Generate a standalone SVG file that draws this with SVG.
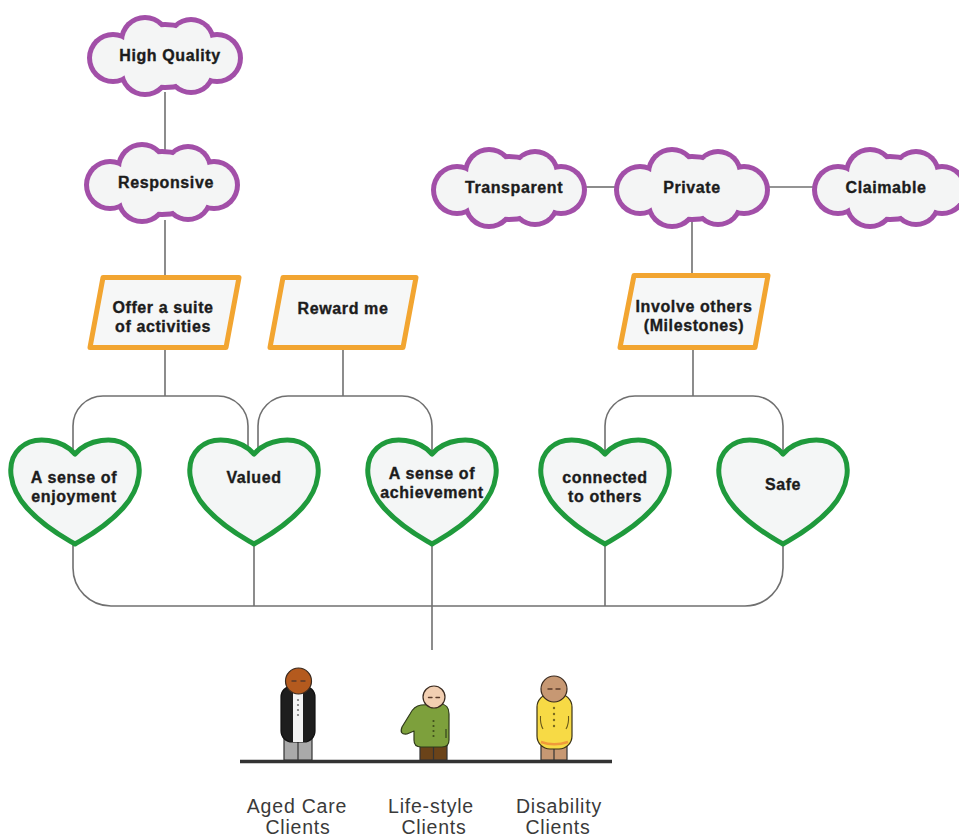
<svg xmlns="http://www.w3.org/2000/svg" xmlns:xlink="http://www.w3.org/1999/xlink" width="959" height="840" viewBox="0 0 959 840">
  <style>
    .lbl { font-family: "Liberation Sans", Arial, sans-serif; font-weight: bold; font-size: 16px; letter-spacing: 0.6px; fill: #1c1c1c; stroke: #1c1c1c; stroke-width: 0.35; text-anchor: middle; }
    .cap { font-family: "Liberation Sans", Arial, sans-serif; font-size: 19.5px; letter-spacing: 0.8px; fill: #3a3a3a; text-anchor: middle; }
    .conn { fill: none; stroke: #707070; stroke-width: 1.6; }
    .para { fill: #f6f7f7; stroke: #f2a531; stroke-width: 5; stroke-linejoin: round; }
    .heart { fill: #f4f6f6; stroke: #1f9a3c; stroke-width: 5; stroke-linejoin: round; }
    .cloud-edge { fill: #a24fa8; }
    .cloud-body { fill: #f4f5f5; }
    .skin-line { stroke: #333; stroke-width: 1.2; }
    .eye { stroke: #5a3a2a; stroke-width: 1.4; stroke-linecap: round; fill: none; }
  </style>
  <defs>
    <!-- cloud = union of lobes; the outer layer shows as a 5px rim -->
    <g id="cloud">
      <g class="cloud-edge">
        <ellipse cx="0" cy="0" rx="46" ry="34"/>
        <circle cx="-20" cy="-15" r="26"/>
        <circle cx="26" cy="-14" r="25"/>
        <circle cx="-20" cy="15" r="26"/>
        <circle cx="26" cy="14" r="25"/>
        <circle cx="-52" cy="2" r="26"/>
        <circle cx="52" cy="2" r="26"/>
      </g>
      <g class="cloud-body">
        <ellipse cx="0" cy="0" rx="41" ry="29"/>
        <circle cx="-20" cy="-15" r="21"/>
        <circle cx="26" cy="-14" r="20"/>
        <circle cx="-20" cy="15" r="21"/>
        <circle cx="26" cy="14" r="20"/>
        <circle cx="-52" cy="2" r="21"/>
        <circle cx="52" cy="2" r="21"/>
      </g>
    </g>
    <!-- heart with its top notch at the origin -->
    <path id="heart" d="M0 2 C-12 -12 -40 -18 -55 -4 C-70 10 -66 36 -48 56 C-30 76 -10 86 0 92 C10 86 30 76 48 56 C66 36 70 10 55 -4 C40 -18 12 -12 0 2 Z"/>
  </defs>

  <rect width="959" height="840" fill="#ffffff"/>

  <g id="connectors">
    <path class="conn" d="M165 92 V150"/>
    <path class="conn" d="M165 220 V280"/>
    <path class="conn" d="M584 187 H616"/>
    <path class="conn" d="M768 187 H815"/>
    <path class="conn" d="M692 222 V278"/>
    <path class="conn" d="M165 347 V396"/>
    <path class="conn" d="M73 455 V426 A30 30 0 0 1 103 396 H218 A30 30 0 0 1 248 426 V455"/>
    <path class="conn" d="M343 347 V396"/>
    <path class="conn" d="M258 455 V426 A30 30 0 0 1 288 396 H402 A30 30 0 0 1 432 426 V455"/>
    <path class="conn" d="M693 347 V396"/>
    <path class="conn" d="M605 455 V426 A30 30 0 0 1 635 396 H753 A30 30 0 0 1 783 426 V455"/>
    <path class="conn" d="M73 538 V568 A38 38 0 0 0 111 606 H745 A38 38 0 0 0 783 568 V538"/>
    <path class="conn" d="M254 538 V606"/>
    <path class="conn" d="M432 538 V650"/>
    <path class="conn" d="M605 538 V606"/>
  </g>

  <g id="high-quality">
    <use xlink:href="#cloud" transform="translate(165 56)"/>
    <text class="lbl" x="170" y="61">High Quality</text>
  </g>
  <g id="responsive">
    <use xlink:href="#cloud" transform="translate(162 183)"/>
    <text class="lbl" x="166" y="188">Responsive</text>
  </g>
  <g id="transparent">
    <use xlink:href="#cloud" transform="translate(509 188)"/>
    <text class="lbl" x="514" y="193">Transparent</text>
  </g>
  <g id="private">
    <use xlink:href="#cloud" transform="translate(692 188)"/>
    <text class="lbl" x="692" y="193">Private</text>
  </g>
  <g id="claimable">
    <use xlink:href="#cloud" transform="translate(890 188)"/>
    <text class="lbl" x="886" y="193">Claimable</text>
  </g>

  <g id="offer-activities">
    <polygon class="para" points="103,277.5 239,277.5 226,347.5 90,347.5"/>
    <text class="lbl" x="163" y="313">Offer a suite</text>
    <text class="lbl" x="163" y="332">of activities</text>
  </g>
  <g id="reward-me">
    <polygon class="para" points="283,277.5 416,277.5 403,347.5 270,347.5"/>
    <text class="lbl" x="343" y="314">Reward me</text>
  </g>
  <g id="involve-others">
    <polygon class="para" points="634,275.5 768,275.5 755,347.5 620,347.5"/>
    <text class="lbl" x="694" y="312">Involve others</text>
    <text class="lbl" x="694" y="331">(Milestones)</text>
  </g>

  <g id="enjoyment">
    <use xlink:href="#heart" class="heart" transform="translate(75 452)"/>
    <text class="lbl" x="74" y="483">A sense of</text>
    <text class="lbl" x="74" y="502">enjoyment</text>
  </g>
  <g id="valued">
    <use xlink:href="#heart" class="heart" transform="translate(254 452)"/>
    <text class="lbl" x="254" y="483">Valued</text>
  </g>
  <g id="achievement">
    <use xlink:href="#heart" class="heart" transform="translate(432 452)"/>
    <text class="lbl" x="432" y="479">A sense of</text>
    <text class="lbl" x="432" y="498">achievement</text>
  </g>
  <g id="connected">
    <use xlink:href="#heart" class="heart" transform="translate(605 452)"/>
    <text class="lbl" x="605" y="483">connected</text>
    <text class="lbl" x="605" y="502">to others</text>
  </g>
  <g id="safe">
    <use xlink:href="#heart" class="heart" transform="translate(783 452)"/>
    <text class="lbl" x="783" y="490">Safe</text>
  </g>

  <g id="clients">
    <!-- ground -->
    <path d="M240 761.5 H612" stroke="#333" stroke-width="3.5"/>

    <!-- aged care figure -->
    <g id="aged-care-figure">
      <rect x="284" y="738" width="28" height="22" fill="#a9a9a9" class="skin-line"/>
      <path d="M298 740 V760" class="skin-line"/>
      <rect x="281" y="686" width="34" height="56" rx="11" fill="#1e1e1e" stroke="#111" stroke-width="1.2"/>
      <rect x="293" y="690" width="10" height="52" fill="#f4f4f4"/>
      <g fill="#777">
        <circle cx="298" cy="700" r="1.1"/>
        <circle cx="298" cy="705" r="1.1"/>
        <circle cx="298" cy="710" r="1.1"/>
        <circle cx="298" cy="715" r="1.1"/>
      </g>
      <circle cx="298.5" cy="681" r="13" fill="#b45a1e" stroke="#3a2a1f" stroke-width="1.2"/>
      <path class="eye" d="M292 681 h4 M301 681 h4"/>
    </g>

    <!-- life-style figure -->
    <g id="lifestyle-figure">
      <rect x="420" y="744" width="27" height="16" fill="#6b4319" class="skin-line"/>
      <path d="M433.5 746 V760" class="skin-line"/>
      <path d="M421 705 Q414 706 410 714 L402 727 Q399 735 407 734 L414 731 L414 740 Q414 747 421 747 L442 747 Q449 747 449 740 L449 714 Q449 704 440 704 Z" fill="#7da03c" stroke="#2f3a1a" stroke-width="1.2" stroke-linejoin="round"/>
      <path d="M446 729 v9" stroke="#2f3a1a" stroke-width="1.1"/>
      <g fill="#3f4f1c">
        <circle cx="433.5" cy="721" r="1.1"/>
        <circle cx="433.5" cy="726" r="1.1"/>
        <circle cx="433.5" cy="731" r="1.1"/>
        <circle cx="433.5" cy="736" r="1.1"/>
      </g>
      <circle cx="434" cy="697" r="11" fill="#f2cfb2" stroke="#3a2a1f" stroke-width="1.2"/>
      <path class="eye" d="M428.5 697.5 h3.5 M436 697.5 h3.5"/>
    </g>

    <!-- disability figure -->
    <g id="disability-figure">
      <rect x="541" y="746" width="26" height="14" fill="#c79873" class="skin-line"/>
      <path d="M554 748 V760" class="skin-line"/>
      <rect x="537" y="694" width="35" height="55" rx="13" fill="#f7da45" stroke="#3a3216" stroke-width="1.2"/>
      <path d="M541 742 Q554 746.5 568 742" stroke="#f09a3a" stroke-width="2.5" fill="none"/>
      <path d="M540.5 716 Q540 724 543 729 M568.5 716 Q569 724 566 729" stroke="#6a5a1a" stroke-width="1.1" fill="none"/>
      <g fill="#7a6a20">
        <circle cx="554" cy="708" r="1.2"/>
        <circle cx="554" cy="714" r="1.2"/>
        <circle cx="554" cy="720" r="1.2"/>
        <circle cx="554" cy="726" r="1.2"/>
      </g>
      <circle cx="554" cy="689" r="13" fill="#c79873" stroke="#3a2a1f" stroke-width="1.2"/>
      <path class="eye" d="M548 689 h4 M556 689 h4"/>
    </g>

    <text class="cap" x="297" y="813">Aged Care</text>
    <text class="cap" x="298" y="834">Clients</text>
    <text class="cap" x="431" y="813">Life-style</text>
    <text class="cap" x="434" y="834">Clients</text>
    <text class="cap" x="559" y="813">Disability</text>
    <text class="cap" x="558" y="834">Clients</text>
  </g>
</svg>
